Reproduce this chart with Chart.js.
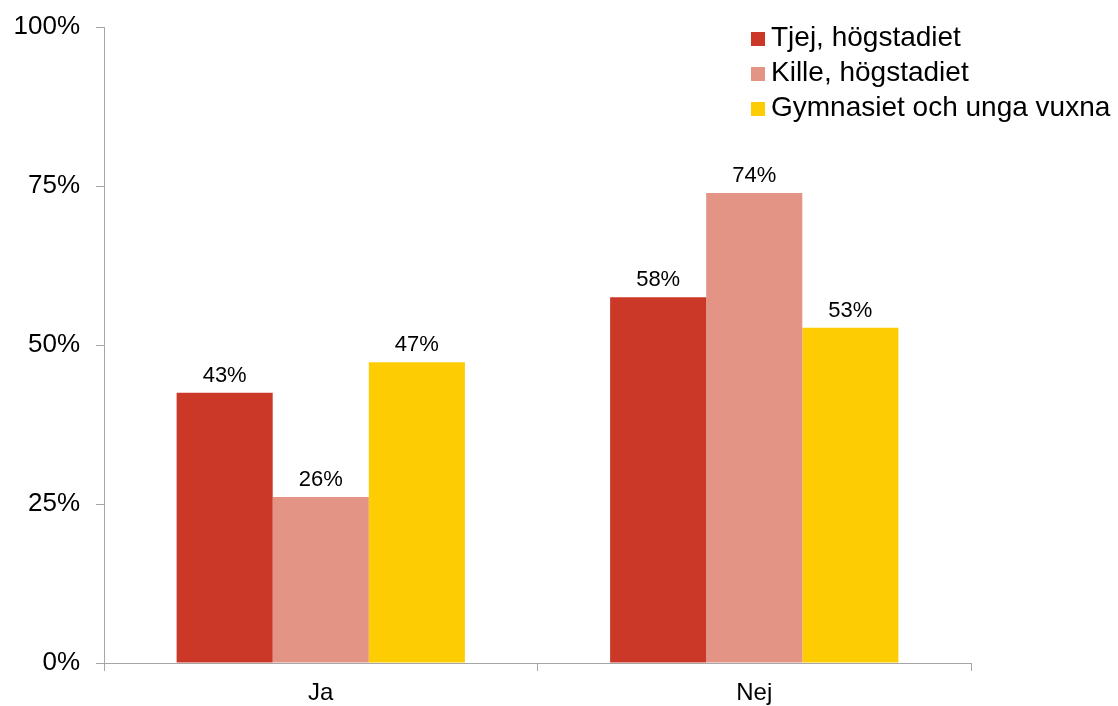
<!DOCTYPE html>
<html>
<head>
<meta charset="utf-8">
<script src="https://cdn.jsdelivr.net/npm/chart.js@4/dist/chart.umd.min.js"></script>
<style>
  body { margin: 0; background: #fff; }
</style>
</head>
<body>
<canvas id="chart" width="1118" height="706"></canvas>
<script>
const categories = ['Ja', 'Nej'];
const seriesNames = ['Tjej, högstadiet', 'Kille, högstadiet', 'Gymnasiet och unga vuxna'];
const tjej = [42.5, 57.5];
const kille = [26.1, 73.9];
const gymnasiet = [47.3, 52.7];
const yTicks = [0, 25, 50, 75, 100];
const colors = ['#cb3828', '#e39485', '#fecc02'];

const FONT = 'Liberation Sans, Arial, sans-serif';

// data labels on top of the bars
const barLabels = {
  id: 'barLabels',
  afterDatasetsDraw(chart) {
    const ctx = chart.ctx;
    ctx.save();
    ctx.font = '22px ' + FONT;
    ctx.fillStyle = '#000';
    ctx.textAlign = 'center';
    ctx.textBaseline = 'alphabetic';
    chart.data.datasets.forEach((ds, i) => {
      chart.getDatasetMeta(i).data.forEach((bar, j) => {
        ctx.fillText(Math.round(ds.data[j]) + '%', bar.x, bar.y - 11);
      });
    });
    ctx.restore();
  }
};

// legend in the top right corner
const cornerLegend = {
  id: 'cornerLegend',
  afterDraw(chart) {
    const ctx = chart.ctx;
    ctx.save();
    ctx.font = '28px ' + FONT;
    ctx.textBaseline = 'alphabetic';
    chart.data.datasets.forEach((ds, i) => {
      const y = 32 + i * 35;
      ctx.fillStyle = ds.backgroundColor;
      ctx.fillRect(751, y, 14, 14);
      ctx.fillStyle = '#000';
      ctx.fillText(ds.label, 771, y + 14);
    });
    ctx.restore();
  }
};

new Chart(document.getElementById('chart').getContext('2d'), {
  type: 'bar',
  data: {
    labels: categories,
    datasets: [
      { label: seriesNames[0], data: tjej, backgroundColor: colors[0] },
      { label: seriesNames[1], data: kille, backgroundColor: colors[1] },
      { label: seriesNames[2], data: gymnasiet, backgroundColor: colors[2] }
    ]
  },
  options: {
    responsive: false,
    animation: false,
    layout: { padding: { top: 27, right: 147, left: 0, bottom: 0 } },
    datasets: {
      bar: { categoryPercentage: 0.665, barPercentage: 1, borderWidth: 0 }
    },
    scales: {
      y: {
        min: 0,
        max: 100,
        afterBuildTicks: (scale) => { scale.ticks = yTicks.map(v => ({ value: v })); },
        afterFit: (scale) => {
          scale.width = 104;
          scale.paddingTop = 0;
          scale.paddingBottom = 0;
        },
        border: { color: '#a6a6a6', width: 1 },
        grid: { drawOnChartArea: false, tickLength: 8, color: '#a6a6a6' },
        ticks: {
          color: '#000',
          padding: 16,
          font: { family: FONT, size: 26 },
          callback: v => v + '%'
        }
      },
      x: {
        afterFit: (scale) => { scale.height = 43; },
        border: { color: '#a6a6a6', width: 1 },
        grid: { drawOnChartArea: false, tickLength: 8, color: '#a6a6a6', offset: true },
        ticks: {
          color: '#000',
          padding: 8,
          font: { family: FONT, size: 24 }
        }
      }
    },
    plugins: {
      legend: { display: false },
      tooltip: { enabled: false }
    }
  },
  plugins: [barLabels, cornerLegend]
});
</script>
</body>
</html>
